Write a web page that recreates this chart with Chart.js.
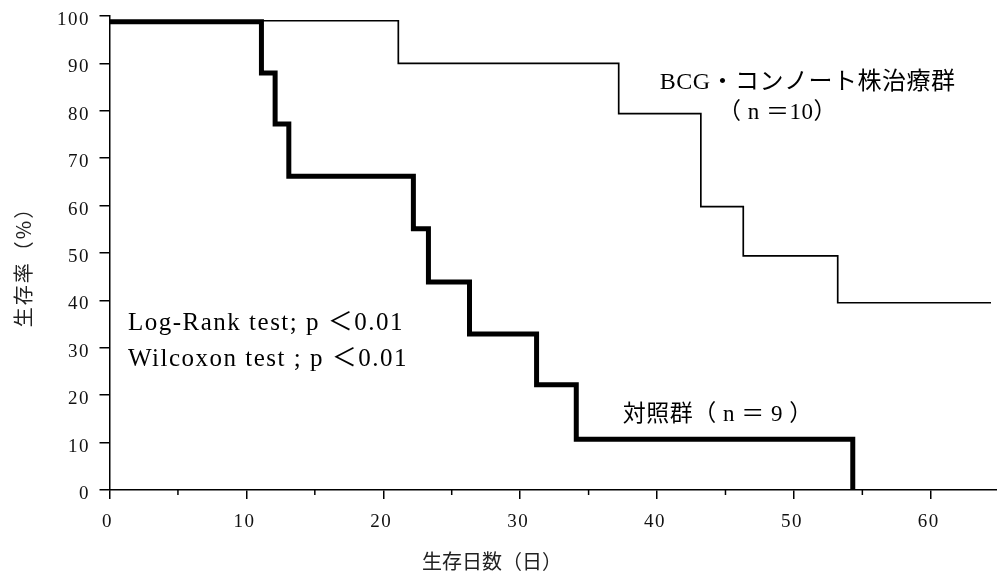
<!DOCTYPE html>
<html>
<head>
<meta charset="utf-8">
<script src="https://cdn.jsdelivr.net/npm/chart.js@4/dist/chart.umd.min.js"></script>
<style>
  html, body { margin: 0; padding: 0; background: #fff; }
  canvas { display: block; }
</style>
</head>
<body>
<canvas id="survivalChart" width="997" height="572"></canvas>
<script>
// 生存曲線 (Kaplan-Meier) : BCG・コンノート株治療群 vs 対照群
const bcgDays = [0, 21.1, 37.2, 43.2, 46.3, 53.2, 64.4];
const bcgSurvival = [99, 90, 79.4, 59.8, 49.4, 39.5, 39.5];

const controlDays = [0, 11.1, 12.1, 13.1, 22.2, 23.3, 26.3, 31.2, 34.1, 54.3];
const controlSurvival = [98.8, 88, 77.2, 66.2, 55.1, 43.9, 32.9, 22.2, 10.7, 0];

const xTicks = [0, 10, 20, 30, 40, 50, 60];
const xMinorTicks = [5, 15, 25, 35, 45, 55];
const yTicks = [0, 10, 20, 30, 40, 50, 60, 70, 80, 90, 100];

const serif = '"Liberation Serif", "Noto Sans CJK JP", serif';
const gothic = '"Noto Sans CJK JP", sans-serif';

function toPoints(xs, ys) {
    return xs.map((d, i) => ({ x: d, y: ys[i] }));
}

// 注記 (値は軸の座標)
const notes = [
    { text: 'BCG・コンノート株治療群', x: 51.0, y: 85.9, align: 'center', size: 24, spacing: 0.5 },
    { text: '（ n ＝10）', x: 48.8, y: 79.5, align: 'center', size: 23, spacing: 0.5 },
    { text: 'Log-Rank test; p ＜0.01', x: 1.35, y: 35.2, align: 'left', size: 25, spacing: 1.5 },
    { text: 'Wilcoxon test ; p ＜0.01', x: 1.35, y: 27.6, align: 'left', size: 25, spacing: 1.5 },
    { text: '対照群（ n ＝ 9 ）', x: 37.5, y: 15.8, align: 'left', size: 23, spacing: 0.5 },
];

const extras = {
    id: 'extras',
    beforeDraw(chart) {
        chart.ctx.letterSpacing = '1.5px';
    },
    afterDraw(chart) {
        const { ctx, scales: { x, y } } = chart;
        ctx.save();
        ctx.letterSpacing = '0px';
        ctx.strokeStyle = '#000';
        ctx.lineWidth = 1.5;
        xMinorTicks.forEach(d => {
            const px = x.getPixelForValue(d);
            ctx.beginPath();
            ctx.moveTo(px, y.bottom);
            ctx.lineTo(px, y.bottom + 5);
            ctx.stroke();
        });

        ctx.fillStyle = '#000';
        ctx.textBaseline = 'middle';
        notes.forEach(n => {
            ctx.font = n.size + 'px ' + serif;
            ctx.textAlign = n.align;
            ctx.letterSpacing = n.spacing + 'px';
            ctx.fillText(n.text, x.getPixelForValue(n.x), y.getPixelForValue(n.y));
        });

        // 軸タイトル
        ctx.letterSpacing = '0px';
        ctx.font = '20px ' + gothic;
        ctx.textAlign = 'center';
        ctx.fillStyle = '#222';
        ctx.fillText('生存日数（日）', 492, 561);

        ctx.translate(23, 262);
        ctx.rotate(-Math.PI / 2);
        ctx.font = '20px ' + gothic;
        ctx.letterSpacing = '2px';
        ctx.fillText('生存率（%）', 0, 0);
        ctx.restore();
        ctx.letterSpacing = '0px';
    }
};

const chart = new Chart(document.querySelector('#survivalChart'), {
    type: 'line',
    data: {
        datasets: [
            {
                label: 'BCG・コンノート株治療群',
                data: toPoints(bcgDays, bcgSurvival),
                stepped: 'before',
                borderColor: '#000',
                borderWidth: 1.7,
                pointRadius: 0,
                fill: false,
                borderJoinStyle: 'miter',
                borderCapStyle: 'butt',
            },
            {
                label: '対照群',
                data: toPoints(controlDays, controlSurvival),
                stepped: 'before',
                borderColor: '#000',
                borderWidth: 5,
                pointRadius: 0,
                fill: false,
                borderJoinStyle: 'miter',
                borderCapStyle: 'butt',
            },
        ],
    },
    options: {
        responsive: false,
        animation: false,
        devicePixelRatio: 1,
        layout: { padding: { top: 16, right: 0.5, left: 0, bottom: 0 } },
        plugins: {
            legend: { display: false },
            tooltip: { enabled: false },
        },
        scales: {
            x: {
                type: 'linear',
                min: 0,
                max: 64.8,
                afterFit: s => { s.height = 82; s.paddingLeft = 0; s.paddingRight = 0; },
                afterBuildTicks: s => { s.ticks = xTicks.map(v => ({ value: v })); },
                ticks: {
                    includeBounds: false,
                    color: '#111',
                    padding: 12,
                    labelOffset: -2,
                    font: { family: serif, size: 19 },
                },
                grid: { drawOnChartArea: false, color: '#000', lineWidth: 1.5, tickLength: 9 },
                border: { color: '#000', width: 1.5 },
            },
            y: {
                min: 0,
                max: 100,
                afterFit: s => { s.width = 109.5; s.paddingTop = 0; s.paddingBottom = 0; },
                afterBuildTicks: s => { s.ticks = yTicks.map(v => ({ value: v })); },
                ticks: {
                    color: '#111',
                    padding: 9.5,
                    labelOffset: 4,
                    font: { family: serif, size: 19 },
                },
                grid: { drawOnChartArea: false, color: '#000', lineWidth: 1.5, tickLength: 10 },
                border: { color: '#000', width: 1.5 },
            },
        },
    },
    plugins: [extras],
});
</script>
</body>
</html>
